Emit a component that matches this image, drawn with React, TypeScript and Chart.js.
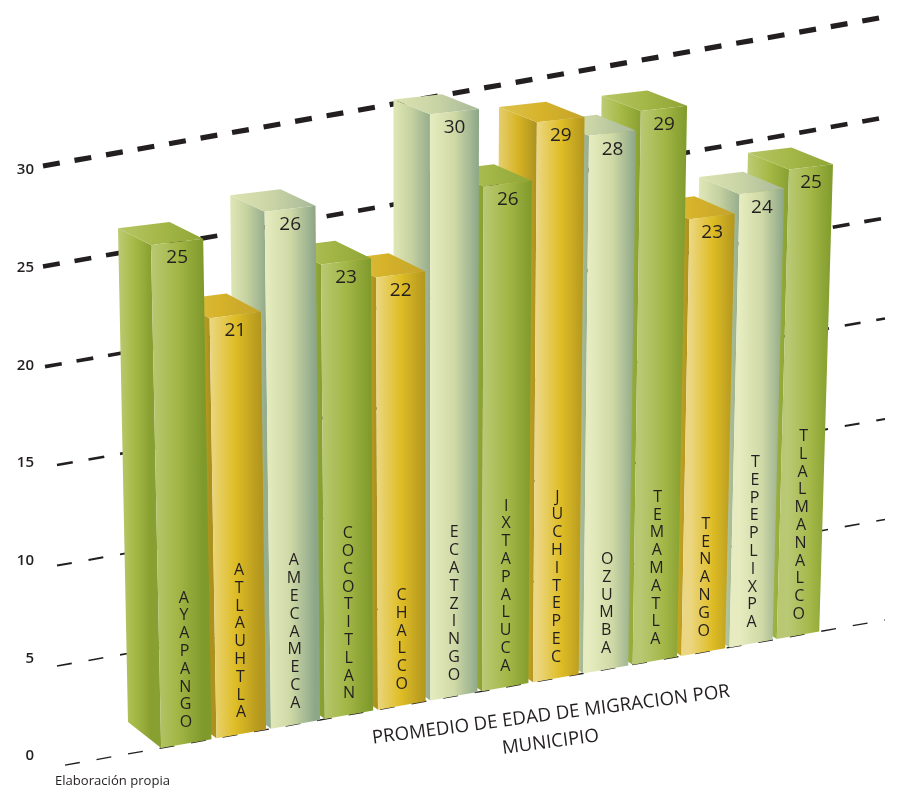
import React, { useEffect, useRef } from 'react';
import { Chart, registerables } from 'chart.js';

Chart.register(...registerables);

// ---------- data ----------
const categories = [
  'AYAPANGO', 'ATLAUHTLA', 'AMECAMECA', 'COCOTITLAN', 'CHALCO', 'ECATZINGO', 'IXTAPALUCA',
  'JUCHITEPEC', 'OZUMBA', 'TEMAMATLA', 'TENANGO', 'TEPEPLIXPA', 'TLALMANALCO',
];
const values = [25, 21, 26, 23, 22, 30, 26, 29, 28, 29, 23, 24, 25];
const barColorKeys = [
  'green', 'yellow', 'pale', 'green', 'yellow', 'pale', 'green',
  'yellow', 'pale', 'green', 'yellow', 'pale', 'green',
];
const yTicks = [0, 5, 10, 15, 20, 25, 30];
const titleLines = ['PROMEDIO DE EDAD DE MIGRACION POR', 'MUNICIPIO'];
const sourceNote = 'Elaboración propia';

// ---------- styles ----------
const FONT = "'Open Sans', 'DejaVu Sans', sans-serif";
const INK = '#231f20';
const palettes: Record<string, { front: string[]; side: string[]; top: string[] }> = {
  green: {
    front: ['#b9c873', '#a3b747', '#7f9a2b'],
    side: ['#bdcb74', '#a6b946', '#88a031'],
    top: ['#b8c666', '#a4b748', '#8ea535'],
  },
  yellow: {
    front: ['#ebd783', '#dfbd26', '#b3961e'],
    side: ['#e5ce6e', '#d7b325', '#ab921f'],
    top: ['#ddc24e', '#d7b32a', '#c3a32b'],
  },
  pale: {
    front: ['#e6ecbf', '#cfd9a6', '#8ca688'],
    side: ['#e0e7b6', '#c5d1a0', '#96ad8d'],
    top: ['#dde3b2', '#c9d4a5', '#a7b899'],
  },
};
// grid style per tick (0..30)
const gridStart = [65, 57, 57, 57, 45, 43, 43];
const gridWidth = [1.3, 1.6, 2.0, 2.6, 3.6, 4.6, 5.2];
const gridDash = [[15, 17], [15, 17], [15, 17], [16, 16], [17, 15], [17, 15], [17, 15]];

// ---------- projection (flat chart pixels -> perspective view) ----------
function makeProjection(chart: any) {
  const xs = chart.scales.x;
  const ys = chart.scales.y;
  const p0 = xs.getPixelForValue(0);
  const step = xs.getPixelForValue(1) - p0;
  return (px: number, py: number) => {
    const u = (px - p0) / step + 0.455;
    const v = ys.getValueForPixel(py);
    const xq = 151 + 57.68 * u - 0.376 * u * u;
    const X = xq - 7e-5 * (xq - 440) * (25 - v) * 20;
    const y0 = 769 - 0.177 * (X - 43);
    const h = 20.55 - 0.00235 * X;
    return { x: X, y: y0 - v * h, v };
  };
}
function depth(p: { x: number; y: number; v: number }) {
  const dx = -33 - (p.x - 151) * 0.0125;
  const dy = -26 + 0.37 * p.v;
  return { x: p.x + dx, y: p.y + dy, v: p.v };
}
function gridY(t: number, x: number) {
  return 769 - 20.1 * t - 0.177 * (x - 43);
}

function grad(ctx: CanvasRenderingContext2D, x0: number, x1: number, stops: string[]) {
  const g = ctx.createLinearGradient(x0, 0, x1, 0);
  stops.forEach((c, i) => g.addColorStop(i / (stops.length - 1), c));
  return g;
}
function poly(ctx: CanvasRenderingContext2D, pts: { x: number; y: number }[], fill: any) {
  ctx.beginPath();
  ctx.moveTo(pts[0].x, pts[0].y);
  for (let i = 1; i < pts.length; i++) ctx.lineTo(pts[i].x, pts[i].y);
  ctx.closePath();
  ctx.fillStyle = fill;
  ctx.fill();
}
function fitFont(ctx: CanvasRenderingContext2D, text: string, width: number, weight = 'normal') {
  ctx.font = `${weight} 20px ${FONT}`;
  const w = ctx.measureText(text).width;
  return (20 * width) / w;
}

const bars3d = {
  id: 'bars3d',
  afterDatasetsDraw(chart: any) {
    const ctx: CanvasRenderingContext2D = chart.ctx;
    const ys = chart.scales.y;
    const P = makeProjection(chart);
    ctx.save();

    // grid lines + tick labels
    const tickVals: number[] = (ys.ticks && ys.ticks.length ? ys.ticks.map((t: any) => t.value) : yTicks);
    tickVals.forEach((t) => {
      const k = yTicks.indexOf(t);
      if (k < 0) return;
      const xa = gridStart[k];
      const xb = 885;
      ctx.beginPath();
      ctx.setLineDash(gridDash[k]);
      ctx.lineDashOffset = 0;
      ctx.lineWidth = gridWidth[k];
      ctx.strokeStyle = INK;
      ctx.lineCap = 'butt';
      ctx.moveTo(xa, gridY(t, xa));
      ctx.lineTo(xb, gridY(t, xb));
      ctx.stroke();
      ctx.setLineDash([]);
      ctx.fillStyle = INK;
      ctx.font = `600 15px ${FONT}`;
      ctx.textAlign = 'right';
      ctx.textBaseline = 'middle';
      ctx.fillText(String(t), 34, ys.getPixelForValue(t));
    });

    // bars, painted right to left so nearer (left) bars cover neighbours' side faces
    const meta = chart.getDatasetMeta(0);
    for (let i = meta.data.length - 1; i >= 0; i--) {
      const el = meta.data[i];
      const { x, y, base, width } = el.getProps(['x', 'y', 'base', 'width'], true);
      const l = x - width / 2;
      const r = x + width / 2;
      const FTL = P(l, y), FTR = P(r, y), FBL = P(l, base), FBR = P(r, base);
      const BTL = depth(FTL), BTR = depth(FTR), BBL = depth(FBL);
      const pal = palettes[barColorKeys[i]];
      poly(ctx, [FTL, BTL, BBL, FBL], grad(ctx, BTL.x, FTL.x, pal.side));
      poly(ctx, [FTL, FTR, BTR, BTL], grad(ctx, BTL.x, FTR.x, pal.top));
      poly(ctx, [FTL, FTR, FBR, FBL], grad(ctx, FTL.x, FTR.x, pal.front));

      // value label
      const Pm = P(x, y);
      const Pb = P(x, base);
      ctx.fillStyle = INK;
      ctx.textAlign = 'center';
      ctx.textBaseline = 'middle';
      ctx.font = `19px ${FONT}`;
      ctx.fillText(String(values[i]), Pm.x, Pm.y + 16);

      // vertical category label (stacked letters)
      const name = categories[i];
      const n = name.length;
      ctx.font = `16px ${FONT}`;
      for (let k = 0; k < n; k++) {
        const yk = Pb.y - 21 - (n - 1 - k) * 17.8;
        const xk = Pb.x + ((Pm.x - Pb.x) * (Pb.y - yk)) / (Pb.y - Pm.y);
        ctx.fillText(name[k], xk, yk);
      }
    }

    // title (rotated, two lines)
    ctx.save();
    ctx.translate(551, 715);
    ctx.rotate((-7.5 * Math.PI) / 180);
    const fs = fitFont(ctx, titleLines[0], 361);
    ctx.font = `${fs}px ${FONT}`;
    ctx.fillStyle = INK;
    ctx.textAlign = 'center';
    ctx.textBaseline = 'middle';
    ctx.fillText(titleLines[0], 0, 0);
    ctx.fillText(titleLines[1], -4, 27);
    ctx.restore();

    // source note
    const fs2 = fitFont(ctx, sourceNote, 115);
    ctx.font = `${fs2}px ${FONT}`;
    ctx.fillStyle = INK;
    ctx.textAlign = 'left';
    ctx.textBaseline = 'middle';
    ctx.fillText(sourceNote, 55, 781);

    ctx.restore();
  },
};

export default function App() {
  const ref = useRef<HTMLCanvasElement>(null);
  useEffect(() => {
    const canvas = ref.current;
    if (!canvas) return;
    const chart = new Chart(canvas, {
      type: 'bar',
      data: {
        labels: categories,
        datasets: [
          {
            data: values,
            backgroundColor: 'rgba(0,0,0,0)',
            borderWidth: 0,
            barPercentage: 0.91,
            categoryPercentage: 1,
          },
        ],
      },
      options: {
        animation: false,
        responsive: false,
        maintainAspectRatio: false,
        layout: { padding: { top: 170, bottom: 35, left: 0, right: 0 } },
        scales: {
          x: { type: 'category', display: false, offset: true },
          y: { type: 'linear', display: false, min: 0, max: 30, ticks: { stepSize: 5 } },
        },
        plugins: {
          legend: { display: false },
          tooltip: { enabled: false },
          title: { display: false },
        },
      },
      plugins: [bars3d],
    });
    return () => chart.destroy();
  }, []);
  return (
    <div style={{ position: 'fixed', left: 0, top: 0, width: 900, height: 791, background: '#fff' }}>
      <canvas ref={ref} width={900} height={791} style={{ display: 'block', width: 900, height: 791 }} />
    </div>
  );
}
